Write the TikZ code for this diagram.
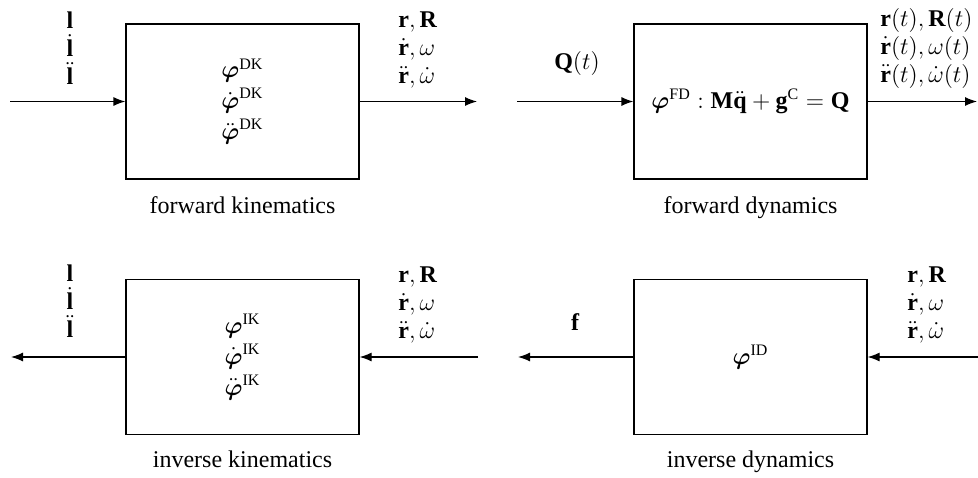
\documentclass[tikz,border=0pt]{standalone}
\usepackage{amsmath,amssymb}
\usepackage{fontspec}
\setmainfont{Liberation Serif}
\usetikzlibrary{arrows.meta}

\begin{document}
\begin{tikzpicture}[x=0.5pt, y=-0.5pt, font=\fontsize{12}{14}\selectfont,
  blk/.style={draw, line width=0.6pt, minimum width=116.5pt, minimum height=77.5pt, inner sep=0pt, align=center},
  captxt/.style={text height=8.5pt, text depth=2.5pt, inner sep=0pt},
  sig/.style={-{Latex[length=6pt,width=4.5pt]}, line width=0.6pt},
  lbl/.style={anchor=west, align=left, inner sep=0pt}]
  \useasboundingbox (0,0) rectangle (978,477);
  % blocks
  \node[blk] (fk) at (242.5,101.5) {$\boldsymbol{\varphi}^{\mathrm{DK}}$\\[1.5pt] $\dot{\boldsymbol{\varphi}}^{\mathrm{DK}}$\\[1.5pt] $\ddot{\boldsymbol{\varphi}}^{\mathrm{DK}}$};
  \node[blk] (fd) at (750.5,101.5) {$\boldsymbol{\varphi}^{\mathrm{FD}}:\mathbf{M}\ddot{\mathbf{q}}+\mathbf{g}^{\mathrm{C}}=\mathbf{Q}$};
  \node[blk] (ik) at (242.5,357) {$\boldsymbol{\varphi}^{\mathrm{IK}}$\\[1.5pt] $\dot{\boldsymbol{\varphi}}^{\mathrm{IK}}$\\[1.5pt] $\ddot{\boldsymbol{\varphi}}^{\mathrm{IK}}$};
  \node[blk] (id) at (750.5,357) {$\boldsymbol{\varphi}^{\mathrm{ID}}$};
  % captions
  \node[captxt] (fkcap) at (242.5,207) {forward kinematics};
  \node[captxt] (fdcap) at (750.5,207) {forward dynamics};
  \node[captxt] (ikcap) at (242.5,461) {inverse kinematics};
  \node[captxt] (idcap) at (750.5,461) {inverse dynamics};
  % free ends
  \coordinate (fkin) at (10,101.5);
  \coordinate (fkout) at (477,101.5);
  \coordinate (fdin) at (517,101.5);
  \coordinate (fdout) at (977,101.5);
  \coordinate (ikout) at (11,357);
  \coordinate (ikin) at (478,357);
  \coordinate (idout) at (518,357);
  \coordinate (idin) at (978,357);
  \draw[sig] (fkin) -- (fk);
  \draw[sig] (fk) -- (fkout);
  \draw[sig] (fdin) -- (fd);
  \draw[sig] (fd) -- (fdout);
  \draw[sig] (ikin) -- (ik);
  \draw[sig] (ik) -- (ikout);
  \draw[sig] (idin) -- (id);
  \draw[sig] (id) -- (idout);
  % signals
  \node[align=center] (fkl) at (70,48) {$\mathbf{l}$\\ $\dot{\mathbf{l}}$\\ $\ddot{\mathbf{l}}$};
  \node[lbl] (fkr) at (398,50) {$\mathbf{r},\mathbf{R}$\\ $\dot{\mathbf{r}},\omega$\\ $\ddot{\mathbf{r}},\dot{\omega}$};
  \node (fdq) at (577,63) {$\mathbf{Q}(t)$};
  \node[lbl] (fdr) at (880,48) {$\mathbf{r}(t),\mathbf{R}(t)$\\ $\dot{\mathbf{r}}(t),\omega(t)$\\ $\ddot{\mathbf{r}}(t),\dot{\omega}(t)$};
  \node[align=center] (ikl) at (70,301) {$\mathbf{l}$\\ $\dot{\mathbf{l}}$\\ $\ddot{\mathbf{l}}$};
  \node[lbl] (ikr) at (398,305) {$\mathbf{r},\mathbf{R}$\\ $\dot{\mathbf{r}},\omega$\\ $\ddot{\mathbf{r}},\dot{\omega}$};
  \node (idf) at (575,322) {$\mathbf{f}$};
  \node[lbl] (idr) at (907,305) {$\mathbf{r},\mathbf{R}$\\ $\dot{\mathbf{r}},\omega$\\ $\ddot{\mathbf{r}},\dot{\omega}$};
\end{tikzpicture}
\end{document}
